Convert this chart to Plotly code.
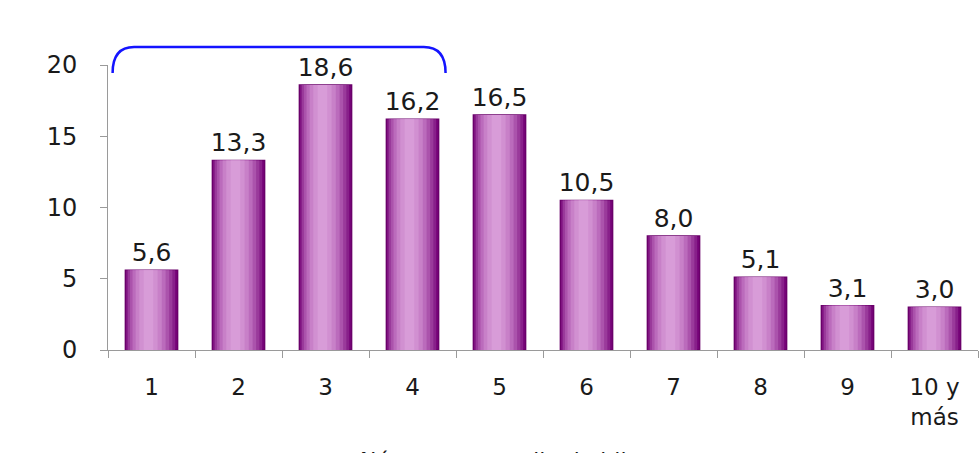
import plotly.graph_objects as go

# data
categorias = ["1", "2", "3", "4", "5", "6", "7", "8", "9", "10 y<br>más"]
posiciones = [1, 2, 3, 4, 5, 6, 7, 8, 9, 10]
porcentajes = [5.6, 13.3, 18.6, 16.2, 16.5, 10.5, 8.0, 5.1, 3.1, 3.0]
y_ticks = [0, 5, 10, 15, 20]

# layered bars to fake the cylinder gradient (outer -> inner)
# (width, colour, shift to the left so the highlight sits off-centre)
capas = [
    (0.60, "#78047a", 0.0),
    (0.56, "#88208a", 0.008),
    (0.51, "#9a3a9b", 0.015),
    (0.45, "#ab53ac", 0.022),
    (0.38, "#bb6bbc", 0.028),
    (0.30, "#c880c8", 0.032),
    (0.21, "#d190d1", 0.035),
    (0.11, "#d89cd8", 0.035),
]

fig = go.Figure()

for i, (w, color, shift) in enumerate(capas):
    first = i == 0
    fig.add_trace(go.Bar(
        x=posiciones,
        y=porcentajes,
        width=w,
        offset=-w / 2 - shift,
        marker=dict(color=color,
                    line=dict(color="#6a006a", width=1.5 if first else 0)),
        texttemplate="%{y:.1f}" if first else None,
        textposition="outside" if first else "none",
        constraintext="none",
        textfont=dict(size=25, color="#1a1a1a", family="DejaVu Sans"),
        cliponaxis=False,
        showlegend=False,
        hoverinfo="y" if first else "skip",
    ))

# blue bracket over categories 1-4
fig.add_shape(
    type="path",
    xref="x", yref="paper",
    path="M 0.553,0.972 Q 0.553,1.063 0.8,1.063 L 4.13,1.063 Q 4.38,1.063 4.38,0.972",
    line=dict(color="#1414ff", width=2.5),
)

# x axis title, mostly cut off at the bottom as in the source
fig.add_annotation(
    text="Número promedio de hijos",
    xref="paper", yref="paper",
    x=0.287, y=-0.336,
    xanchor="left", yanchor="top",
    showarrow=False,
    font=dict(size=22, color="#1a1a1a", family="DejaVu Sans"),
)

fig.update_layout(
    width=980, height=453,
    margin=dict(l=108, r=2, t=65, b=103),
    barmode="overlay",
    separators=",.",
    paper_bgcolor="white",
    plot_bgcolor="white",
    font=dict(family="DejaVu Sans", size=24, color="#1a1a1a"),
    xaxis=dict(
        range=[0.5, 10.5],
        tickmode="array",
        tickvals=posiciones,
        ticktext=categorias,
        ticks="",
        showline=True, linecolor="#9a9a9a", linewidth=1,
        showgrid=False, zeroline=False,
        ticklabelstandoff=16,
        tickfont=dict(size=23),
        minor=dict(tick0=0.5, dtick=1, ticks="outside", ticklen=7,
                   tickcolor="#9a9a9a", showgrid=False),
    ),
    yaxis=dict(
        range=[0, 20],
        tickmode="array",
        tickvals=y_ticks,
        ticks="outside", ticklen=7, tickcolor="#9a9a9a",
        showline=True, linecolor="#9a9a9a", linewidth=1,
        showgrid=False, zeroline=False,
        ticklabelstandoff=18,
        tickfont=dict(size=24),
    ),
)

fig.write_html("out.html", config={"displayModeBar": False},
               post_script="document.body.style.margin = '0';")
